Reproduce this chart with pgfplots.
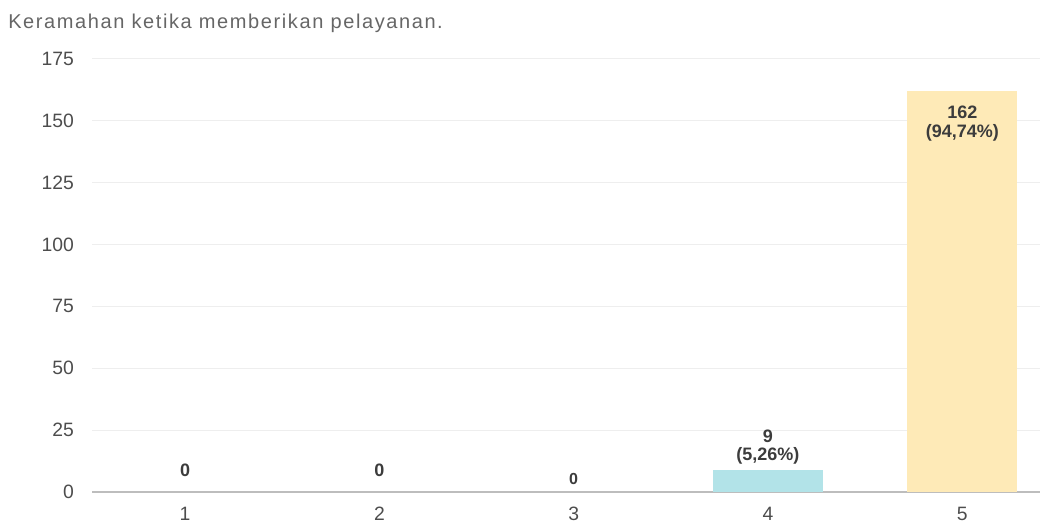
\documentclass[border=0pt]{standalone}
\usepackage{pgfplots}
\pgfplotsset{compat=1.18}
\usepackage{fontspec}
\setmainfont{Liberation Sans}
\definecolor{gridc}{HTML}{EEEEEE}
\definecolor{basec}{HTML}{BDBDBD}
\definecolor{cyanbar}{HTML}{B2E3E8}
\definecolor{yellowbar}{HTML}{FEEAB7}
\definecolor{titlec}{HTML}{666666}
\definecolor{tickc}{HTML}{4D4D4D}
\definecolor{labc}{HTML}{3C3C3C}
\begin{document}
\begin{tikzpicture}
\path[use as bounding box] (0pt,0pt) rectangle (786pt,393pt);
\node[anchor=west,inner sep=0pt,text=titlec,font=\fontsize{15pt}{16pt}\selectfont\addfontfeature{LetterSpace=8}] at (6pt,375.5pt) {Keramahan ketika memberikan pelayanan.};
\begin{axis}[
  at={(69pt,24pt)}, anchor=south west,
  scale only axis,
  width=711pt, height=324.75pt,
  xmin=0.521, xmax=5.40,
  ymin=0, ymax=175,
  ytick={0,25,...,175},
  xtick={1,2,3,4,5},
  ybar, bar width=0.566,
  axis x line=bottom, axis y line=left,
  x axis line style={-, draw=basec, line width=2pt},
  y axis line style={draw=none},
  major tick length=0pt,
  ymajorgrids, grid style={gridc, line width=0.75pt},
  /pgf/number format/assume math mode=true,
  tick label style={font=\fontsize{14.5pt}{16pt}\selectfont, text=tickc},
  xticklabel style={yshift=-7.5pt},
  yticklabel style={xshift=-10pt},
  clip=false,
]
\addplot[fill=cyanbar, draw=none, bar shift=0pt] coordinates {(4,9)};
\addplot[fill=yellowbar, draw=none, bar shift=0pt] coordinates {(5,162)};
\node[font=\bfseries\fontsize{13.5pt}{14pt}\selectfont, text=labc] at (axis cs:1,8.9) {0};
\node[font=\bfseries\fontsize{13.5pt}{14pt}\selectfont, text=labc] at (axis cs:2,8.9) {0};
\node[font=\bfseries\fontsize{12pt}{13pt}\selectfont, text=labc] at (axis cs:3,5.2) {0};
\node[font=\bfseries\fontsize{13.5pt}{14pt}\selectfont, text=labc] at (axis cs:4,22.6) {9};
\node[font=\bfseries\fontsize{13.5pt}{14pt}\selectfont, text=labc] at (axis cs:4,14.6) {(5,26\%)};
\node[font=\bfseries\fontsize{13.5pt}{14pt}\selectfont, text=labc] at (axis cs:5,153.6) {162};
\node[font=\bfseries\fontsize{13.5pt}{14pt}\selectfont, text=labc] at (axis cs:5,145.2) {(94,74\%)};
\end{axis}
\end{tikzpicture}
\end{document}
